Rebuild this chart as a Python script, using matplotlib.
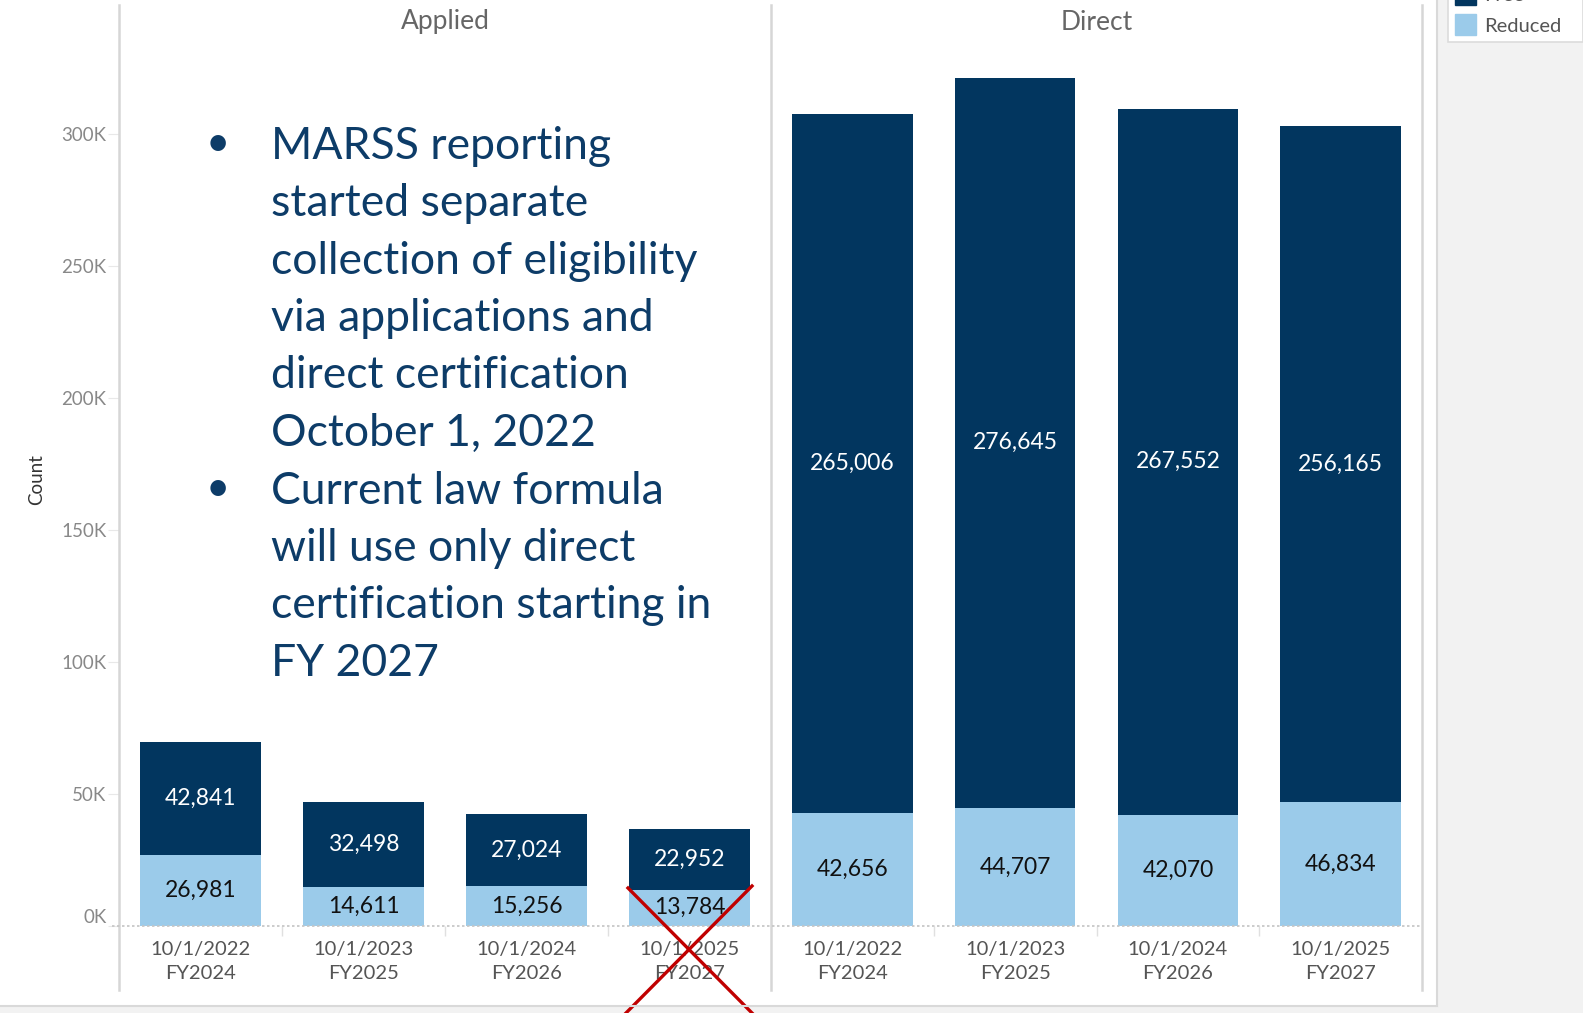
import numpy as np
import matplotlib
matplotlib.use("Agg")
import matplotlib.pyplot as plt
from matplotlib.lines import Line2D
from matplotlib.patches import Rectangle
from matplotlib.transforms import blended_transform_factory

# data
panels = ["Applied", "Direct"]
dates = ["10/1/2022", "10/1/2023", "10/1/2024", "10/1/2025"]
fiscal_years = ["FY2024", "FY2025", "FY2026", "FY2027"]
applied_reduced = [26981, 14611, 15256, 13784]
applied_free = [42841, 32498, 27024, 22952]
direct_reduced = [42656, 44707, 42070, 46834]
direct_free = [265006, 276645, 267552, 256165]
y_ticks = [0, 50000, 100000, 150000, 200000, 250000, 300000]
y_tick_labels = ["0K", "50K", "100K", "150K", "200K", "250K", "300K"]
legend_labels = ["Free", "Reduced"]
note_lines = [
    "MARSS reporting",
    "started separate",
    "collection of eligibility",
    "via applications and",
    "direct certification",
    "October 1, 2022",
    "Current law formula",
    "will use only direct",
    "certification starting in",
    "FY 2027",
]
bullet_rows = [0, 6]

FREE_COLOR = "#02365f"
REDUCED_COLOR = "#9bcbea"
NOTE_COLOR = "#0d3c68"

W, H = 1583, 1013
plt.rcParams["font.family"] = ["Lato", "DejaVu Sans"]


def fx(x):
    return x / W


def fy(y):
    return 1 - y / H


fig = plt.figure(figsize=(W / 100, H / 100), dpi=100)
fig.patch.set_facecolor("white")

zero_px, top_px, px_per_k = 926, 5, 2.64
ymax = (zero_px - top_px) / px_per_k * 1000

panel_edges = [(119, 771), (771, 1422)]
panel_data = [(applied_reduced, applied_free), (direct_reduced, direct_free)]
x = np.arange(len(dates))
tick_labels = [f"{d}\n{f}" for d, f in zip(dates, fiscal_years)]

for i, ((x0, x1), (reduced, free)) in enumerate(zip(panel_edges, panel_data)):
    ax = fig.add_axes([fx(x0), fy(zero_px), fx(x1) - fx(x0), (zero_px - top_px) / H])
    ax.bar(x, reduced, width=0.74, color=REDUCED_COLOR, zorder=2)
    ax.bar(x, free, width=0.74, bottom=reduced, color=FREE_COLOR, zorder=2)
    for xi, r, f in zip(x, reduced, free):
        ax.text(xi, r / 2, f"{r:,}", ha="center", va="center", fontsize=16.5, color="#111111")
        ax.text(xi, r + f / 2, f"{f:,}", ha="center", va="center", fontsize=16.5, color="white")
    ax.set_xlim(-0.5, 3.5)
    ax.set_ylim(0, ymax)
    ax.set_xticks(x)
    ax.set_xticklabels(tick_labels, fontsize=14.5, color="#555555", linespacing=1.5)
    ax.set_xticks([0.5, 1.5, 2.5], minor=True)
    ax.tick_params(axis="x", which="major", length=0, pad=10.5)
    ax.tick_params(axis="x", which="minor", length=7, color="#e0e0e0", width=1)
    for s in ax.spines.values():
        s.set_visible(False)
    ax.set_facecolor("none")
    ax.text(0.5, fy(22), panels[i], transform=blended_transform_factory(ax.transAxes, fig.transFigure),
            ha="center", va="center", fontsize=19, color="#666666")
    if i == 0:
        ax.set_yticks(y_ticks)
        ax.set_yticklabels(y_tick_labels, fontsize=13.5, color="#888888")
        ax.tick_params(axis="y", length=8, color="#e8e8e8", pad=1)
        ax.get_yticklabels()[0].set_va("bottom")
    else:
        ax.set_yticks([])

# panel dividers and zero line
for xv in (119, 771, 1422):
    fig.add_artist(Line2D([fx(xv), fx(xv)], [fy(5), fy(990)], color="#d6d6d6", lw=1.8))
fig.add_artist(Line2D([fx(112), fx(1421)], [fy(zero_px), fy(zero_px)], color="#c4c4c4", lw=1.2, ls=(0, (1.5, 1.5))))

fig.text(fx(37), fy(480), "Count", rotation=90, ha="center", va="center", fontsize=13.5, color="#333333")

# note text
line_step = 57.5
for k, line in enumerate(note_lines):
    yk = 146 + k * line_step
    fig.text(fx(271), fy(yk), line, ha="left", va="center", fontsize=32, color=NOTE_COLOR)
    if k in bullet_rows:
        fig.text(fx(218), fy(yk - 2), "\u2022", ha="center", va="center", fontsize=30, color=NOTE_COLOR)

# red cross over the last applied bar
fig.add_artist(Line2D([fx(628), fx(752)], [fy(888), fy(1013)], color="#c00000", lw=2.4))
fig.add_artist(Line2D([fx(752), fx(626)], [fy(886), fy(1013)], color="#c00000", lw=2.4))

# right side gray pane, bottom border
fig.add_artist(Rectangle((fx(1437), 0), 1 - fx(1437), 1, transform=fig.transFigure, color="#f2f2f2", zorder=-1))
fig.add_artist(Rectangle((0, 0), fx(1437), fy(1006), transform=fig.transFigure, color="#f2f2f2", zorder=-1))
fig.add_artist(Line2D([fx(1437), fx(1437)], [fy(0), fy(1006)], color="#d9d9d9", lw=1.5))
fig.add_artist(Line2D([0, fx(1437)], [fy(1006), fy(1006)], color="#d9d9d9", lw=1.5))

# legend (cut off at the top like the original)
fig.add_artist(Rectangle((fx(1448), fy(42)), 1 - fx(1448), fy(-5) - fy(42), transform=fig.transFigure,
                         facecolor="white", edgecolor="#dcdcdc", lw=1.2))
for j, (lab, col) in enumerate(zip(legend_labels, [FREE_COLOR, REDUCED_COLOR])):
    top = 14 - (1 - j) * 30
    fig.add_artist(Rectangle((fx(1455), fy(top + 21)), fx(21), 21 / H, transform=fig.transFigure, color=col))
    fig.text(fx(1484), fy(top + 12), lab, ha="left", va="center", fontsize=14.5, color="#555555")

fig.savefig("out.png", dpi=100)
